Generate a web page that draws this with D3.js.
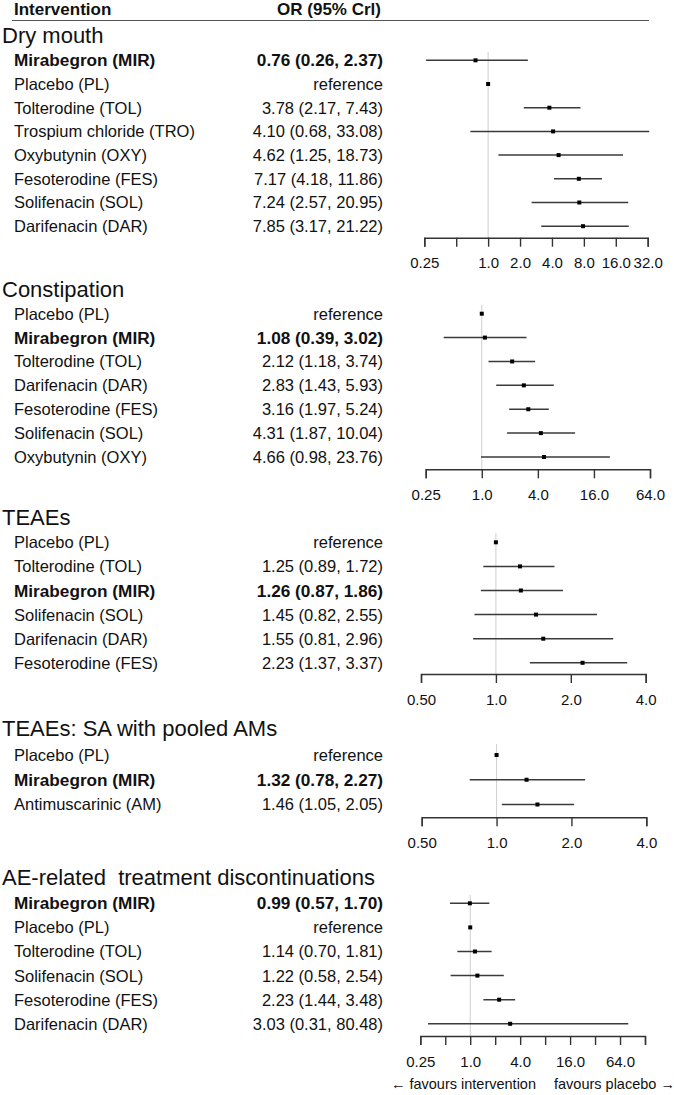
<!DOCTYPE html>
<html>
<head>
<meta charset="utf-8">
<script src="https://cdn.jsdelivr.net/npm/d3@7"></script>
<style>
  html, body { margin: 0; padding: 0; background: #fff; }
  svg { display: block; font-family: "Liberation Sans", Arial, Helvetica, sans-serif; }
  text { white-space: pre; }
</style>
</head>
<body>
<svg id="chart" width="674" height="1095"></svg>
<script>
// ---------------- DATA ----------------
const headerLeft = "Intervention";
const headerRight = "OR (95% Crl)";
const footerLeft = "\u2190 favours intervention";
const footerRight = "favours placebo \u2192";

// Panel 1: Dry mouth
const dryTitle = "Dry mouth";
const dryLabels = ["Mirabegron (MIR)", "Placebo (PL)", "Tolterodine (TOL)", "Trospium chloride (TRO)", "Oxybutynin (OXY)", "Fesoterodine (FES)", "Solifenacin (SOL)", "Darifenacin (DAR)"];
const dryOR = [0.76, 1, 3.78, 4.10, 4.62, 7.17, 7.24, 7.85];
const dryLo = [0.26, null, 2.17, 0.68, 1.25, 4.18, 2.57, 3.17];
const dryHi = [2.37, null, 7.43, 33.08, 18.73, 11.86, 20.95, 21.22];
const dryTicks = [0.25, 0.5, 1, 2, 4, 8, 16, 32];
const dryTickLabels = ["0.25", "", "1.0", "2.0", "4.0", "8.0", "16.0", "32.0"];

// Panel 2: Constipation
const conTitle = "Constipation";
const conLabels = ["Placebo (PL)", "Mirabegron (MIR)", "Tolterodine (TOL)", "Darifenacin (DAR)", "Fesoterodine (FES)", "Solifenacin (SOL)", "Oxybutynin (OXY)"];
const conOR = [1, 1.08, 2.12, 2.83, 3.16, 4.31, 4.66];
const conLo = [null, 0.39, 1.18, 1.43, 1.97, 1.87, 0.98];
const conHi = [null, 3.02, 3.74, 5.93, 5.24, 10.04, 23.76];
const conTicks = [0.25, 1, 4, 16, 64];
const conTickLabels = ["0.25", "1.0", "4.0", "16.0", "64.0"];

// Panel 3: TEAEs
const teaTitle = "TEAEs";
const teaLabels = ["Placebo (PL)", "Tolterodine (TOL)", "Mirabegron (MIR)", "Solifenacin (SOL)", "Darifenacin (DAR)", "Fesoterodine (FES)"];
const teaOR = [1, 1.25, 1.26, 1.45, 1.55, 2.23];
const teaLo = [null, 0.89, 0.87, 0.82, 0.81, 1.37];
const teaHi = [null, 1.72, 1.86, 2.55, 2.96, 3.37];
const teaTicks = [0.5, 1, 2, 4];
const teaTickLabels = ["0.50", "1.0", "2.0", "4.0"];

// Panel 4: TEAEs: SA with pooled AMs
const saTitle = "TEAEs: SA with pooled AMs";
const saLabels = ["Placebo (PL)", "Mirabegron (MIR)", "Antimuscarinic (AM)"];
const saOR = [1, 1.32, 1.46];
const saLo = [null, 0.78, 1.05];
const saHi = [null, 2.27, 2.05];
const saTicks = [0.5, 1, 2, 4];
const saTickLabels = ["0.50", "1.0", "2.0", "4.0"];

// Panel 5: AE-related treatment discontinuations
const aeTitle = "AE-related  treatment discontinuations";
const aeLabels = ["Mirabegron (MIR)", "Placebo (PL)", "Tolterodine (TOL)", "Solifenacin (SOL)", "Fesoterodine (FES)", "Darifenacin (DAR)"];
const aeOR = [0.99, 1, 1.14, 1.22, 2.23, 3.03];
const aeLo = [0.57, null, 0.70, 0.58, 1.44, 0.31];
const aeHi = [1.70, null, 1.81, 2.54, 3.48, 80.48];
const aeTicks = [0.25, 0.5, 1, 2, 4, 8, 16, 32, 64, 128];
const aeTickLabels = ["0.25", "", "1.0", "", "4.0", "", "16.0", "", "64.0", ""];

const boldLabel = "Mirabegron (MIR)";

// ---------------- LAYOUT ----------------
const panels = [
  { title: dryTitle, labels: dryLabels, or: dryOR, lo: dryLo, hi: dryHi, ticks: dryTicks, tickLabels: dryTickLabels,
    titleY: 43.3, rowFirst: 60.3, rowLast: 226.2, axisY: 237.7, refTop: 52, xRange: [424.3, 647.7] },
  { title: conTitle, labels: conLabels, or: conOR, lo: conLo, hi: conHi, ticks: conTicks, tickLabels: conTickLabels,
    titleY: 297.3, rowFirst: 313.7, rowLast: 457, axisY: 469.3, refTop: 305, xRange: [425.7, 650] },
  { title: teaTitle, labels: teaLabels, or: teaOR, lo: teaLo, hi: teaHi, ticks: teaTicks, tickLabels: teaTickLabels,
    titleY: 525, rowFirst: 542.3, rowLast: 662.8, axisY: 674, refTop: 533, xRange: [421, 645.7] },
  { title: saTitle, labels: saLabels, or: saOR, lo: saLo, hi: saHi, ticks: saTicks, tickLabels: saTickLabels,
    titleY: 735.7, rowFirst: 755, rowLast: 804.5, axisY: 817.3, refTop: 744, xRange: [421.7, 646.3] },
  { title: aeTitle, labels: aeLabels, or: aeOR, lo: aeLo, hi: aeHi, ticks: aeTicks, tickLabels: aeTickLabels,
    titleY: 885, rowFirst: 903.3, rowLast: 1023.8, axisY: 1036, refTop: 895, xRange: [420.3, 645] }
];

const labelX = 14, valueX = 383, titleX = 2;
const fmt = d3.format(".2f");

const svg = d3.select("#chart");

// Header
svg.append("text").attr("x", 14).attr("y", 14.5)
  .attr("font-size", 17).attr("font-weight", "bold").attr("fill", "#111").text(headerLeft);
svg.append("text").attr("x", 381).attr("y", 14.5).attr("text-anchor", "end")
  .attr("font-size", 17).attr("font-weight", "bold").attr("fill", "#111").text(headerRight);
svg.append("line").attr("x1", 12).attr("x2", 649).attr("y1", 20.5).attr("y2", 20.5)
  .attr("stroke", "#555").attr("stroke-width", 1.2);

panels.forEach(p => {
  const n = p.labels.length;
  const x = d3.scaleLog().base(2).domain([p.ticks[0], p.ticks[p.ticks.length - 1]]).range(p.xRange);
  const y = d3.scaleLinear().domain([0, n - 1]).range([p.rowFirst, p.rowLast]);
  const g = svg.append("g");

  // Title
  g.append("text").attr("x", titleX).attr("y", p.titleY)
    .attr("font-size", 22).attr("fill", "#111")
    .attr("xml:space", "preserve").text(p.title);

  const rows = p.labels.map((lab, i) => ({ lab, or: p.or[i], lo: p.lo[i], hi: p.hi[i], i }));

  // Labels
  g.selectAll("text.lab").data(rows).join("text").attr("class", "lab")
    .attr("x", labelX).attr("y", d => y(d.i)).attr("dy", "0.36em")
    .attr("font-size", d => d.lab === boldLabel ? 17.2 : 16.5)
    .attr("font-weight", d => d.lab === boldLabel ? "bold" : "normal")
    .attr("fill", "#111").text(d => d.lab);

  g.selectAll("text.val").data(rows).join("text").attr("class", "val")
    .attr("x", valueX).attr("y", d => y(d.i)).attr("dy", "0.36em").attr("text-anchor", "end")
    .attr("font-size", d => d.lab === boldLabel ? 17.2 : 16.5)
    .attr("font-weight", d => d.lab === boldLabel ? "bold" : "normal")
    .attr("fill", "#111")
    .text(d => d.lo == null ? "reference" : `${fmt(d.or)} (${fmt(d.lo)}, ${fmt(d.hi)})`);

  // Reference line at OR = 1
  g.append("line").attr("x1", x(1)).attr("x2", x(1)).attr("y1", p.refTop).attr("y2", p.axisY)
    .attr("stroke", "#cfcfcf").attr("stroke-width", 1);

  // CIs
  g.selectAll("line.ci").data(rows.filter(d => d.lo != null)).join("line").attr("class", "ci")
    .attr("x1", d => x(d.lo)).attr("x2", d => x(d.hi))
    .attr("y1", d => y(d.i)).attr("y2", d => y(d.i))
    .attr("stroke", "#3a3a3a").attr("stroke-width", 1.5);

  // Points
  const s = 4;
  g.selectAll("rect.pt").data(rows).join("rect").attr("class", "pt")
    .attr("x", d => x(d.or) - s / 2).attr("y", d => y(d.i) - s / 2)
    .attr("width", s).attr("height", s).attr("fill", "#000");

  // Axis
  const axis = d3.axisBottom(x).tickValues(p.ticks)
    .tickFormat((d, i) => p.tickLabels[i])
    .tickSize(9).tickSizeOuter(9).tickPadding(11);
  const ag = g.append("g").attr("transform", `translate(0,${p.axisY})`).call(axis);
  ag.select(".domain").attr("stroke", "#333").attr("stroke-width", 1.4);
  ag.selectAll(".tick line").attr("stroke", "#333").attr("stroke-width", 1.4);
  ag.selectAll(".tick text").attr("font-size", 15).attr("fill", "#111")
    .attr("font-family", "'Liberation Sans', Arial, sans-serif");
});

// Footer
svg.append("text").attr("x", 536).attr("y", 1089).attr("text-anchor", "end")
  .attr("font-size", 14.5).attr("fill", "#111").text(footerLeft);
svg.append("text").attr("x", 554).attr("y", 1089)
  .attr("font-size", 14.5).attr("fill", "#111").text(footerRight);
</script>
</body>
</html>
